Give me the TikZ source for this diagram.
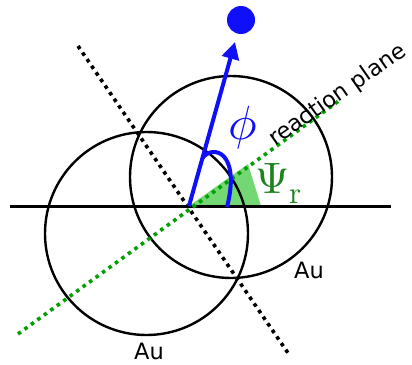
\documentclass[tikz,border=0pt]{standalone}
\usepackage{fontspec}
\setmainfont{DejaVu Sans}
\usepackage{unicode-math}
\setmathfont{Latin Modern Math}
\usetikzlibrary{arrows.meta}
\definecolor{myblue}{RGB}{15,15,250}
\definecolor{dotgreen}{RGB}{0,160,0}
\definecolor{fillgreen}{RGB}{115,215,115}
\definecolor{psigreen}{RGB}{30,130,30}
\tikzset{
  circ/.style={line width=2.4pt},
  dotline/.style={line width=3.6pt, dash pattern=on 3.6pt off 4.4pt},
  lbl/.style={font=\fontsize{22.5}{24}\selectfont, inner sep=0pt}
}
\begin{document}
\begin{tikzpicture}[x=1pt,y=-1pt]
\useasboundingbox (0,0) rectangle (412,364);
\coordinate (O) at (189,206);
% green wedge
\fill[fillgreen] (O) -- (261,206) -- (248,164) -- cycle;
% circles
\draw[circ] (231,177) circle (101);
\draw[circ] (146.5,233.5) circle (101.5);
% horizontal line
\coordinate (hl) at (10,206);
\coordinate (hr) at (391,206);
\draw[line width=3pt] (hl) -- (hr);
% dotted lines
\coordinate (g1) at (18,334);
\coordinate (g2) at (340,100);
\draw[dotline, dotgreen] (g1) -- (g2);
\coordinate (b1) at (78,46);
\coordinate (b2) at (288,353);
\draw[dotline, black] (b1) -- (b2);
% labels
\node[lbl, rotate=35, anchor=base west] (rp) at (275,147) {reaction plane};
\node[lbl, anchor=base] (au1) at (149,359) {Au};
\node[lbl, anchor=base] (au2) at (309,278) {Au};
% blue arrow and dot
\coordinate (tip) at (235,42);
\draw[myblue, line width=4pt, -{Triangle[length=17pt,width=17pt]}] (O) -- (tip);
\fill[myblue] (241,20) circle (14);
\draw[myblue, line width=4pt] (202.5,158) .. controls (213,144) and (241,152) .. (227,207);
\node[myblue, inner sep=0pt, font=\fontsize{48}{50}\selectfont] (phi) at (243,128) {$\phi$};
\node[psigreen, inner sep=0pt, anchor=base west, font=\fontsize{44}{46}\selectfont] (psi) at (255,193) {$\Psi_{\symup{r}}$};
\end{tikzpicture}
\end{document}
